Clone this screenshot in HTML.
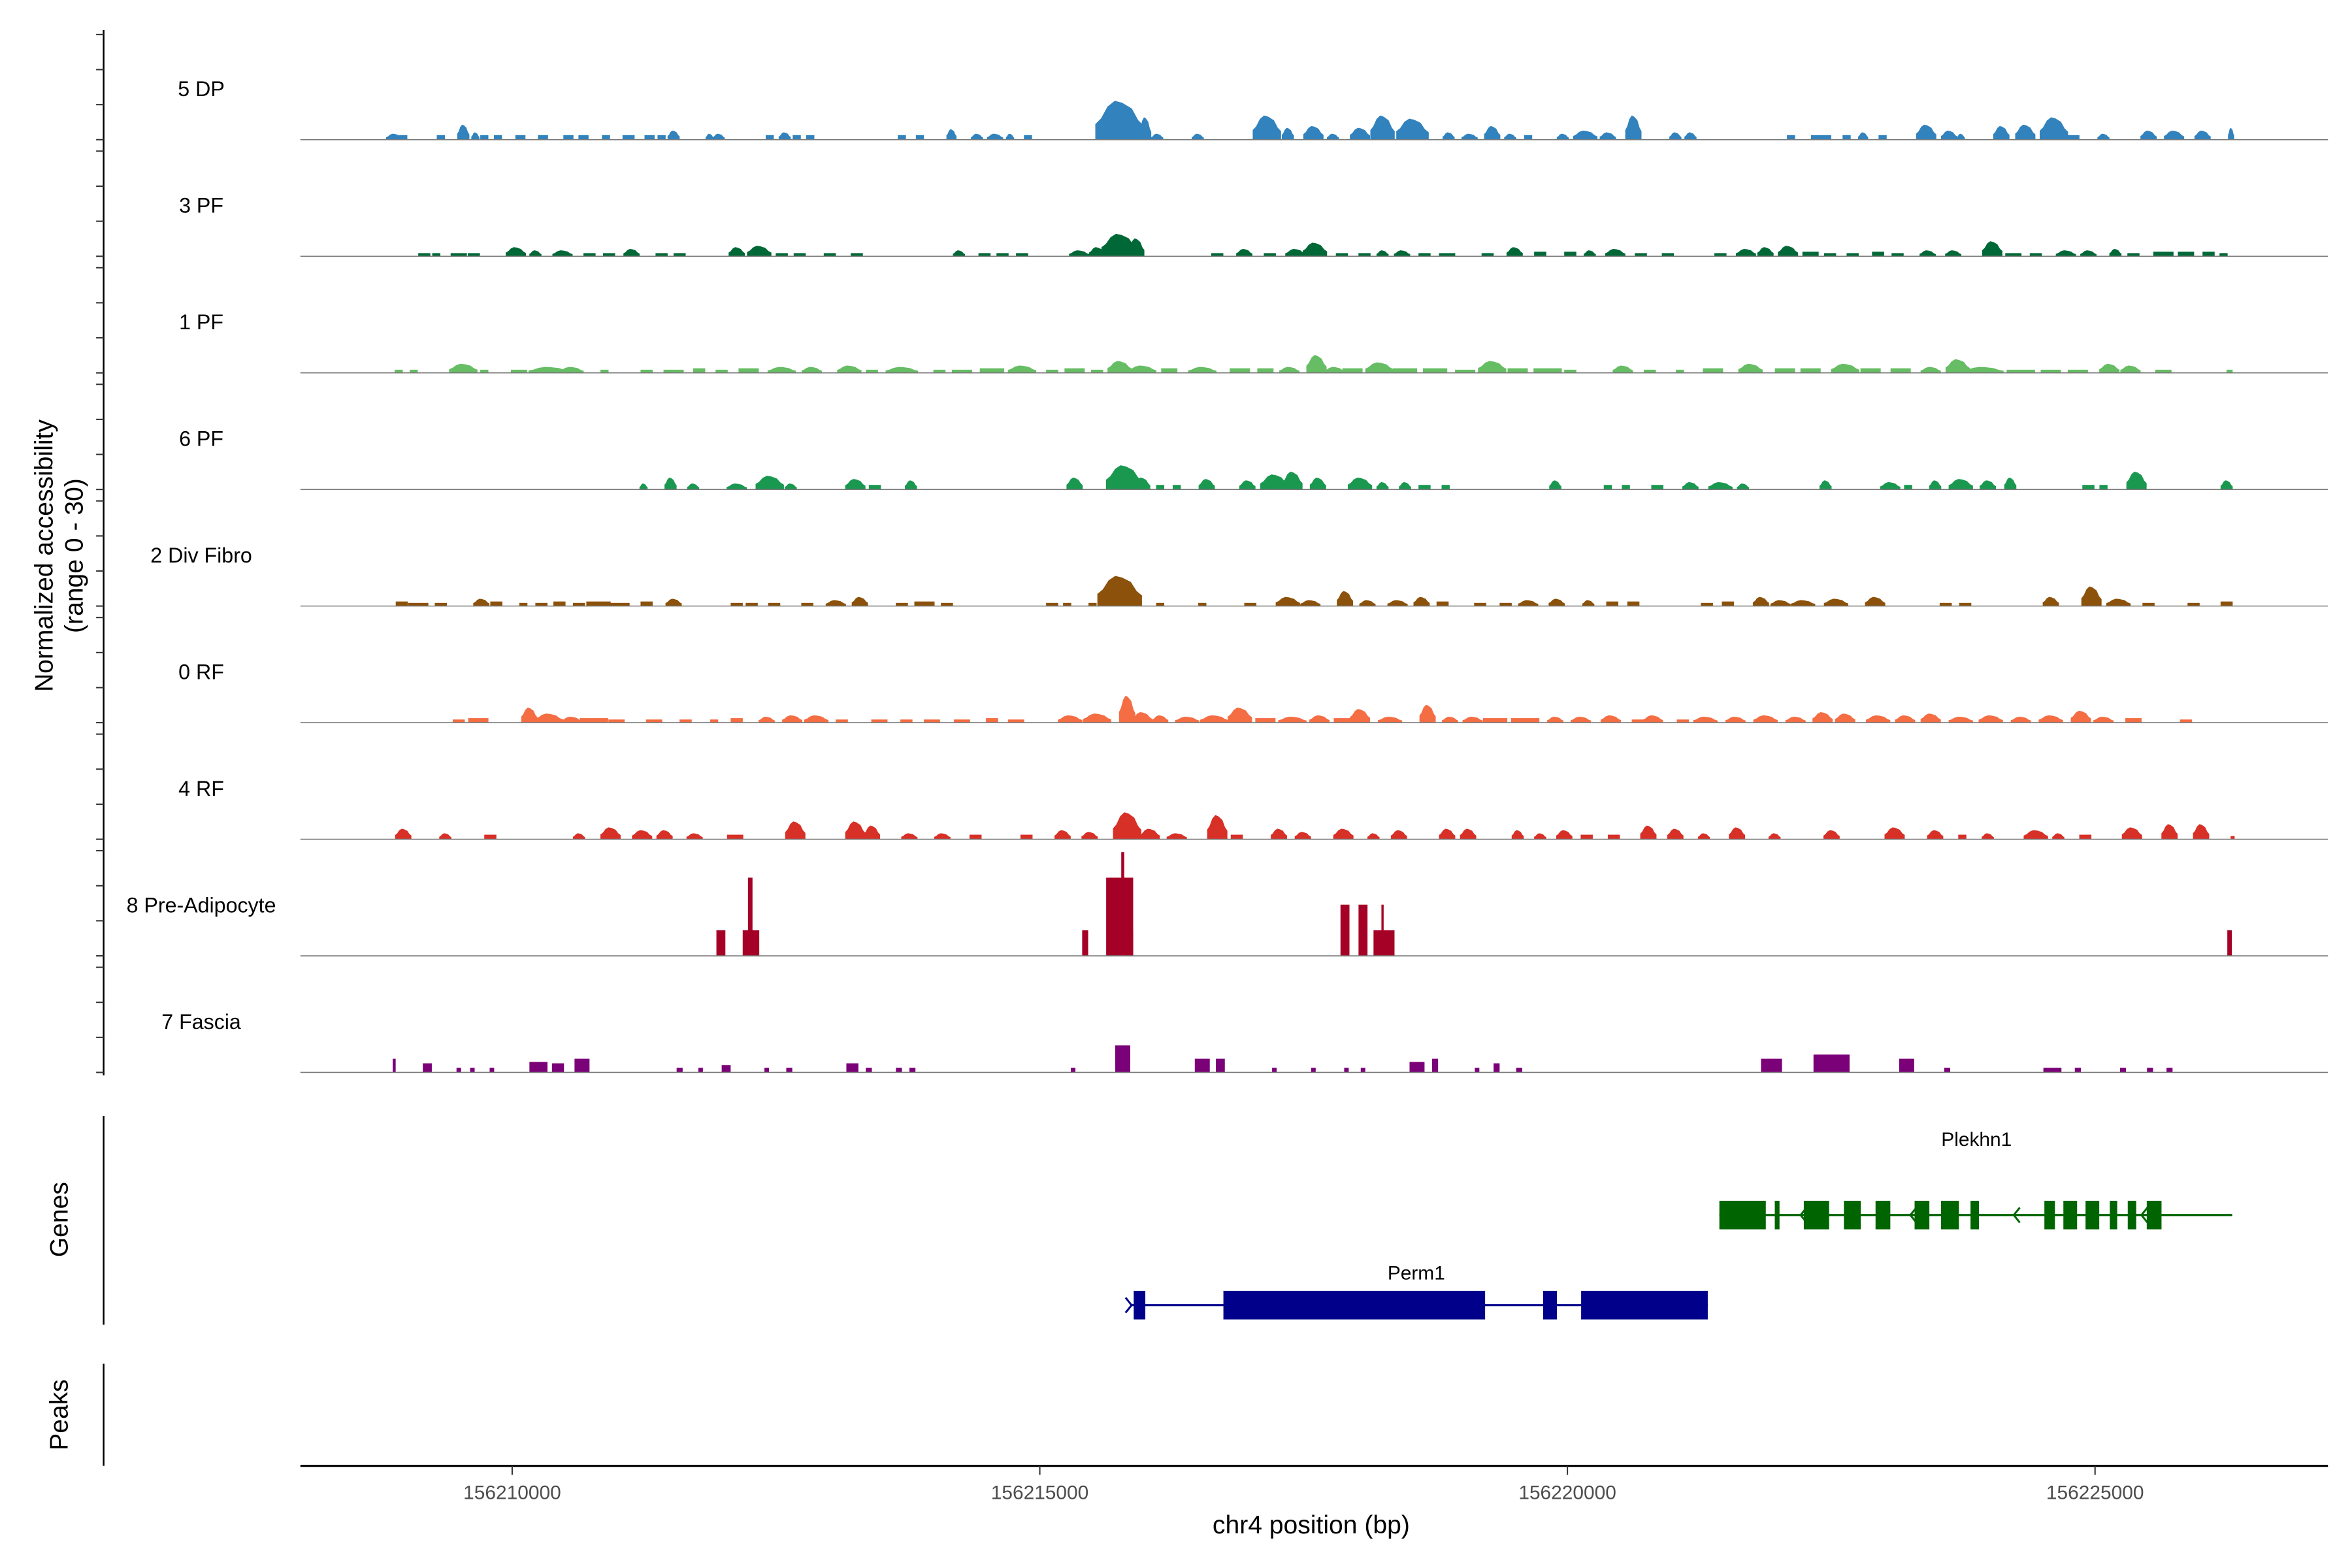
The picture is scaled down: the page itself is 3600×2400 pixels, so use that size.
<!DOCTYPE html>
<html><head><meta charset="utf-8"><title>Coverage plot chr4</title>
<style>html,body{margin:0;padding:0;background:#fff}svg{display:block}text{font-family:"Liberation Sans",Arial,sans-serif}</style>
</head><body>
<svg id="chart" xmlns="http://www.w3.org/2000/svg" width="3600" height="2400" viewBox="0 0 1566 1044" preserveAspectRatio="none">
<rect x="0" y="0" width="1566" height="1044" fill="#fff"/>
<g id="axes"></g>
<g id="tracks"></g>
<g id="genes"></g>
</svg>
<script>
// ---- data ----
const xTicks = [156210000, 156215000, 156220000, 156225000];
const trackNames = ["5 DP","3 PF","1 PF","6 PF","2 Div Fibro","0 RF","4 RF","8 Pre-Adipocyte","7 Fascia"];
const trackColors = ["#3182BD","#006837","#66BD63","#1A9850","#8C510A","#F46D43","#D73027","#A50026","#7A0177"];
const yTicks = [0,10,20,30];
// peaks: [center bp, width bp, height (0-30)]
const peaks5DP = [[156208882,114,1.7],[156208968,57,1.3],[156209324,57,1.3],[156209537,85,4.3],[156209651,57,2.1],[156209736,57,1.3],[156209865,57,1.3],[156210078,71,1.3],[156210292,71,1.3],[156210533,71,1.3],[156210676,71,1.3],[156210889,57,1.3],[156211103,85,1.3],[156211302,71,1.3],[156211416,57,1.3],[156211530,85,2.6],[156211871,57,1.7],[156211957,85,1.7],[156212441,57,1.3],[156212583,85,2.1],[156212697,57,1.3],[156212825,57,1.3],[156213693,57,1.3],[156213864,57,1.3],[156214163,71,3.0],[156214405,85,1.7],[156214576,114,1.7],[156214718,57,1.7],[156214888,57,1.3],[156215757,342,11.1],[156215999,85,6.4],[156216113,85,1.7],[156216497,85,1.7],[156217152,199,6.9],[156217351,85,3.4],[156217593,142,3.9],[156217778,85,1.7],[156218034,142,3.4],[156218248,171,6.9],[156218532,228,6.0],[156218874,85,2.1],[156219073,114,1.7],[156219287,114,3.9],[156219458,85,1.7],[156219628,57,1.3],[156219956,85,1.7],[156220169,171,2.6],[156220383,114,2.1],[156220625,114,6.9],[156221023,85,2.1],[156221166,85,2.1],[156222119,57,1.3],[156222404,142,1.3],[156222646,57,1.3],[156222802,71,2.1],[156222987,57,1.3],[156223400,142,4.3],[156223617,114,2.6],[156223728,57,1.7],[156224112,114,3.9],[156224339,142,4.3],[156224610,199,6.4],[156224795,85,1.3],[156225080,85,1.7],[156225507,114,2.6],[156225749,142,2.6],[156226019,114,2.6],[156226289,43,3.4]];
const peaks3PF = [[156209167,85,0.9],[156209281,57,0.9],[156209494,114,0.9],[156209637,85,0.9],[156210035,142,2.6],[156210220,85,1.7],[156210477,142,1.7],[156210733,85,0.9],[156210918,85,0.9],[156211131,114,2.1],[156211416,85,0.9],[156211587,85,0.9],[156212128,114,2.6],[156212341,171,3.0],[156212555,85,0.9],[156212725,85,0.9],[156213010,85,0.9],[156213266,85,0.9],[156214234,85,1.7],[156214476,85,0.9],[156214647,85,0.9],[156214832,85,0.9],[156215373,142,1.7],[156215543,114,2.6],[156215757,256,6.4],[156215914,114,5.1],[156216682,85,0.9],[156216938,114,2.1],[156217180,85,0.9],[156217422,142,2.1],[156217607,171,3.9],[156217863,85,0.9],[156218077,85,0.9],[156218248,85,1.7],[156218433,114,1.7],[156218646,85,0.9],[156218860,114,0.9],[156219244,85,0.9],[156219500,114,2.6],[156219742,85,1.3],[156220027,85,1.3],[156220212,85,1.7],[156220453,142,2.1],[156220696,85,0.9],[156220952,85,0.9],[156221450,85,0.9],[156221692,142,2.1],[156221877,114,2.6],[156222090,142,3.0],[156222304,114,1.3],[156222489,85,0.9],[156222703,85,0.9],[156222944,85,1.3],[156223129,85,0.9],[156223414,114,1.7],[156223656,114,1.7],[156224026,142,4.3],[156224226,114,0.9],[156224439,85,0.9],[156224724,142,1.7],[156224937,114,1.7],[156225193,85,2.1],[156225364,85,0.9],[156225648,142,1.3],[156225862,114,1.3],[156226076,85,1.3],[156226218,57,0.9]];
const peaks1PF = [[156208925,57,0.9],[156209067,57,0.9],[156209537,199,2.6],[156209736,57,0.9],[156210064,114,0.9],[156210348,285,1.7],[156210562,171,1.7],[156210875,57,0.9],[156211274,85,0.9],[156211530,142,0.9],[156211772,85,1.3],[156211985,85,0.9],[156212241,142,1.3],[156212555,199,1.7],[156212839,142,1.7],[156213195,171,2.1],[156213409,85,0.9],[156213693,228,1.7],[156214049,85,0.9],[156214263,142,0.9],[156214547,171,1.3],[156214832,199,2.1],[156215117,85,0.9],[156215330,142,1.3],[156215543,85,0.9],[156215757,171,3.4],[156215970,199,2.1],[156216227,114,1.3],[156216540,199,1.7],[156216896,142,1.3],[156217138,114,1.3],[156217365,142,1.7],[156217622,142,5.1],[156217792,142,1.7],[156217963,142,1.3],[156218219,199,3.0],[156218461,171,1.3],[156218746,171,1.3],[156219031,142,0.9],[156219287,199,3.4],[156219529,142,1.3],[156219813,199,1.3],[156220027,85,0.9],[156220525,142,2.1],[156220781,85,0.9],[156221066,57,0.9],[156221379,142,1.3],[156221735,171,2.6],[156222062,142,1.3],[156222304,142,1.3],[156222632,199,2.6],[156222873,142,1.3],[156223158,142,1.3],[156223443,142,1.7],[156223699,171,3.9],[156223941,285,1.7],[156224297,199,0.9],[156224581,142,0.9],[156224837,142,0.9],[156225136,142,2.6],[156225336,142,2.1],[156225648,114,0.9],[156226275,43,0.9]];
const peaks6PF = [[156211245,57,1.7],[156211501,85,3.4],[156211715,85,1.7],[156212128,142,1.7],[156212441,199,3.9],[156212640,85,1.7],[156213252,142,3.0],[156213437,85,1.3],[156213779,85,2.6],[156215330,114,3.4],[156215800,256,6.9],[156215970,114,3.4],[156216141,57,1.3],[156216298,57,1.3],[156216582,114,3.0],[156216967,114,2.6],[156217223,199,4.3],[156217394,142,5.1],[156217636,114,3.4],[156218034,171,3.4],[156218248,85,2.1],[156218461,85,2.1],[156218646,85,1.3],[156218846,57,1.3],[156219885,85,2.6],[156220383,57,1.3],[156220554,57,1.3],[156220852,85,1.3],[156221166,114,2.1],[156221450,171,2.1],[156221664,85,1.7],[156222446,85,2.6],[156223059,142,2.1],[156223229,57,1.3],[156223485,85,2.6],[156223728,171,3.0],[156223984,114,2.6],[156224197,85,3.4],[156224937,85,1.3],[156225080,57,1.3],[156225393,142,5.1],[156226247,85,2.6]];
const peaksDivFibro = [[156208954,85,1.3],[156209110,142,0.9],[156209324,85,0.9],[156209708,114,2.1],[156209850,85,1.3],[156210106,57,0.9],[156210277,85,0.9],[156210448,85,1.3],[156210633,85,0.9],[156210818,171,1.3],[156211017,142,0.9],[156211274,85,1.3],[156211530,114,2.1],[156212128,85,0.9],[156212270,85,0.9],[156212483,85,0.9],[156212797,85,0.9],[156213067,142,1.7],[156213295,114,2.6],[156213693,85,0.9],[156213907,142,1.3],[156214120,85,0.9],[156215117,85,0.9],[156215259,57,0.9],[156215500,57,0.9],[156215757,313,8.6],[156216141,57,0.9],[156216540,57,0.9],[156216995,85,0.9],[156217351,171,2.6],[156217564,142,1.7],[156217892,114,4.3],[156218105,114,1.7],[156218390,142,1.7],[156218618,114,2.6],[156218817,85,1.3],[156219173,85,0.9],[156219415,85,0.9],[156219628,142,1.7],[156219899,114,2.1],[156220198,85,1.7],[156220425,85,1.3],[156220625,85,1.3],[156221322,85,0.9],[156221521,85,1.3],[156221834,114,2.6],[156222020,142,1.7],[156222233,171,1.7],[156222546,171,2.1],[156222916,142,2.6],[156223585,85,0.9],[156223770,85,0.9],[156224581,114,2.6],[156224966,142,5.6],[156225222,171,2.1],[156225507,85,0.9],[156225934,85,0.9],[156226247,85,1.3]];
const peaks0RF = [[156209494,85,0.9],[156209679,142,1.3],[156210163,114,4.3],[156210348,199,2.6],[156210562,142,1.7],[156210775,199,1.3],[156210989,114,0.9],[156211345,114,0.9],[156211644,85,0.9],[156211914,57,0.9],[156212128,85,1.3],[156212412,114,1.7],[156212654,142,2.1],[156212882,171,2.1],[156213124,85,0.9],[156213480,114,0.9],[156213736,85,0.9],[156213978,114,0.9],[156214263,114,0.9],[156214547,85,1.3],[156214775,114,0.9],[156215287,171,2.1],[156215543,199,2.6],[156215828,114,7.7],[156215970,142,3.0],[156216141,114,2.1],[156216397,171,1.7],[156216654,199,2.1],[156216896,171,4.3],[156217138,142,1.3],[156217394,199,1.7],[156217650,142,2.1],[156217863,114,1.3],[156218034,142,3.9],[156218319,171,1.7],[156218675,114,5.1],[156218888,114,1.7],[156219102,142,1.7],[156219315,171,1.3],[156219600,199,1.3],[156219885,114,1.7],[156220127,142,1.7],[156220411,142,2.1],[156220667,85,0.9],[156220810,142,2.1],[156221094,85,0.9],[156221308,171,1.7],[156221593,142,1.7],[156221877,171,2.1],[156222162,142,1.7],[156222418,142,3.0],[156222632,142,2.6],[156222944,171,2.1],[156223200,142,2.1],[156223443,142,2.6],[156223728,171,1.7],[156224012,171,2.1],[156224297,142,1.7],[156224581,171,2.1],[156224866,142,3.4],[156225080,142,1.7],[156225364,114,1.3],[156225862,85,0.9]];
const peaks4RF = [[156208968,114,3.0],[156209366,85,1.7],[156209793,85,1.3],[156210633,85,1.7],[156210932,142,3.4],[156211231,142,2.6],[156211444,114,2.6],[156211729,114,1.7],[156212113,114,1.3],[156212683,142,5.1],[156213252,142,5.1],[156213409,114,3.9],[156213764,114,1.7],[156214077,114,1.7],[156214391,85,1.3],[156214874,85,1.3],[156215216,114,2.6],[156215472,114,2.1],[156215828,199,7.7],[156216042,142,3.0],[156216298,142,1.7],[156216682,142,6.9],[156216867,85,1.3],[156217266,114,3.0],[156217493,114,2.1],[156217877,142,3.0],[156218162,85,1.7],[156218404,114,2.6],[156218860,114,3.0],[156219059,114,3.0],[156219529,85,2.6],[156219742,85,1.7],[156219970,114,2.6],[156220183,85,1.3],[156220440,85,1.3],[156220767,114,3.9],[156221023,114,3.0],[156221294,85,1.7],[156221607,114,3.4],[156221963,85,1.7],[156222503,114,2.6],[156223101,142,3.4],[156223485,114,2.6],[156223742,57,1.3],[156223984,85,1.7],[156224439,171,2.6],[156224652,85,1.7],[156224908,85,1.3],[156225350,142,3.4],[156225706,114,4.3],[156226005,114,4.3],[156226304,28,0.9]];
const peaksPreAdipocyte = [[156211978,85,7.3],[156212263,157,7.3],[156212256,43,22.3],[156215430,57,7.3],[156215757,256,22.3],[156215786,28,29.6],[156215857,57,7.3],[156217892,85,14.6],[156218063,85,14.6],[156218262,199,7.3],[156218248,21,14.6],[156226275,43,7.3]];
const peaksFascia = [[156208882,28,3.9],[156209196,85,2.6],[156209494,43,1.3],[156209623,43,1.3],[156209808,43,1.3],[156210249,171,3.0],[156210434,114,2.6],[156210662,142,3.9],[156211587,57,1.3],[156211786,43,1.3],[156212028,85,2.1],[156212412,43,1.3],[156212626,57,1.3],[156213224,114,2.6],[156213380,57,1.3],[156213665,57,1.3],[156213793,57,1.3],[156215316,43,1.3],[156215786,142,7.7],[156216540,142,3.9],[156216711,85,3.9],[156217223,43,1.3],[156217593,43,1.3],[156217906,43,1.3],[156218063,43,1.3],[156218575,142,3.0],[156218746,57,3.9],[156219144,43,1.3],[156219329,57,2.6],[156219543,57,1.3],[156221934,199,3.9],[156222503,342,5.1],[156223215,142,3.9],[156223599,57,1.3],[156224596,171,1.3],[156224837,57,1.3],[156225265,57,1.3],[156225521,57,1.3],[156225706,57,1.3]];
const trackPeaks = [peaks5DP,peaks3PF,peaks1PF,peaks6PF,peaksDivFibro,peaks0RF,peaks4RF,peaksPreAdipocyte,peaksFascia];
const trackBlocky = [false,false,false,false,false,false,false,true,true];
// genes: exons [start, end] in bp
const plekhn1Exons = [[156221440,156221880],[156221965,156222010],[156222240,156222480],[156222620,156222780],[156222920,156223060],[156223290,156223430],[156223540,156223710],[156223820,156223900],[156224520,156224620],[156224700,156224830],[156224910,156225040],[156225140,156225210],[156225310,156225390],[156225490,156225630]];
const plekhn1Span = [156221440,156226300];
const perm1Exons = [[156215890,156216000],[156216740,156219220],[156219770,156219900],[156220130,156221330]];
const perm1Span = [156215860,156221330];

// ---- scales ----
const X0 = 200, X1 = 1550, BP0 = 156207993, BP_PER_PX = 5000/351.3;
function xs(bp){ return X0 + (bp - BP0)/BP_PER_PX; }
const TRACK_H = 70, TRACK_STEP = 77.63, FIRST_BASE = 93;
function base(i){ return FIRST_BASE + i*TRACK_STEP; }
function ys(i, v){ return base(i) - v/30*TRACK_H; }
const WIDEN = 1.35;

const NS = "http://www.w3.org/2000/svg";
function mk(tag, attrs, parent){ const e=document.createElementNS(NS,tag); for(const k in attrs) e.setAttribute(k,attrs[k]); parent.appendChild(e); return e; }
const axes = document.getElementById('axes');
const tracksG = document.getElementById('tracks');
const genesG = document.getElementById('genes');

// left y axis
let yl = mk('line',{x1:69,y1:20,x2:69,y2:716,stroke:'#000','stroke-width':1.1},axes);


for(let i=0;i<trackNames.length;i++){
  for(const t of yTicks){
    const y = ys(i,t);
    const tk = mk('line',{x1:64,y1:y,x2:69,y2:y,stroke:'#333','stroke-width':0.9},axes);
    
    
  }
}
let yt = mk('text',{x:0,y:0,'font-size':17,'text-anchor':'middle',transform:'translate(35,370) rotate(-90)'},axes);
yt.textContent = 'Normalized accessibility';


let yt2 = mk('text',{x:0,y:0,'font-size':17,'text-anchor':'middle',transform:'translate(55,370) rotate(-90)'},axes);
yt2.textContent = '(range 0 - 30)';



// tracks
for(let i=0;i<trackNames.length;i++){
  const g = mk('g',{},tracksG);
  
  
  const lbl = mk('text',{x:134,y:base(i)-29,'font-size':14,'text-anchor':'middle',fill:'#000'},g);
  lbl.textContent = trackNames[i];
  
  
  const col = trackColors[i];
  const b = base(i);
  for(const p of trackPeaks[i]){
    const c = xs(p[0]), top = ys(i,p[2]);
    const w = trackBlocky[i] ? p[1]/BP_PER_PX : p[1]/BP_PER_PX*WIDEN;
    const x0 = c-w/2, x1 = c+w/2, h = b-top;
    let el;
    if(trackBlocky[i] || p[2] < 1.5){
      el = mk('rect',{x:x0,y:top,width:w,height:h,fill:col},g);
    } else {
      const pts = [[x0,b],[x0,b-h*0.4],[x0+w*0.12,b-h*0.55],[x0+w*0.25,b-h*0.85],[x0+w*0.4,top],[x0+w*0.55,b-h*0.95],[x1-w*0.25,b-h*0.8],[x1-w*0.12,b-h*0.5],[x1,b-h*0.35],[x1,b]];
      el = mk('polygon',{points:pts.map(q=>q[0].toFixed(2)+','+q[1].toFixed(2)).join(' '),fill:col},g);
    }
    
    
  }
  const bl = mk('line',{x1:X0,y1:b,x2:X1,y2:b,stroke:'#7a7a7a','stroke-width':0.7},g);
  
  
}

// genes panel
let ga = mk('line',{x1:69,y1:743,x2:69,y2:882,stroke:'#000','stroke-width':1.1},genesG);


let gl = mk('text',{x:0,y:0,'font-size':17,'text-anchor':'middle',transform:'translate(45,812) rotate(-90)'},genesG);
gl.textContent='Genes';


let pa = mk('line',{x1:69,y1:908,x2:69,y2:976,stroke:'#000','stroke-width':1.1},genesG);


let pl = mk('text',{x:0,y:0,'font-size':17,'text-anchor':'middle',transform:'translate(45,942) rotate(-90)'},genesG);
pl.textContent='Peaks';



function drawGene(name, span, exons, yc, col, labelX, labelY, strand, arrows){
  const g = mk('g',{},genesG);
  
  
  const ln = mk('line',{x1:xs(span[0]),y1:yc,x2:xs(span[1]),y2:yc,stroke:col,'stroke-width':1.4},g);
  
  
  for(const e of exons){
    const r = mk('rect',{x:xs(e[0]),y:yc-9.5,width:Math.max(1.5,xs(e[1])-xs(e[0])),height:19,fill:col},g);
    
    
  }
  for(const a of arrows){
    const ax = xs(a);
    const d = strand<0 ? `M${ax+4},${yc-5} L${ax},${yc} L${ax+4},${yc+5}` : `M${ax-4},${yc-5} L${ax},${yc} L${ax-4},${yc+5}`;
    const pth = mk('path',{d:d,stroke:col,'stroke-width':1.3,fill:'none'},g);
    
    
  }
  const t = mk('text',{x:labelX,y:labelY,'font-size':13,'text-anchor':'middle'},g);
  t.textContent = name;
  
  
}
drawGene('Plekhn1', plekhn1Span, plekhn1Exons, 809, '#006400', 1316, 763, -1, [156222210,156223250,156224230,156225440]);
drawGene('Perm1', perm1Span, perm1Exons, 869, '#00008B', 943, 852, 1, [156215870]);

// x axis
let xl = mk('line',{x1:X0,y1:976,x2:X1,y2:976,stroke:'#000','stroke-width':1.4},axes);


for(const t of xTicks){
  const x = xs(t);
  const tk = mk('line',{x1:x,y1:976,x2:x,y2:982,stroke:'#333','stroke-width':0.9},axes);
  
  
  const tl = mk('text',{x:x,y:998,'font-size':13,'text-anchor':'middle',fill:'#4D4D4D'},axes);
  tl.textContent = String(t);
  
  
}
let xt = mk('text',{x:873,y:1021,'font-size':17,'text-anchor':'middle'},axes);
xt.textContent='chr4 position (bp)';


</script>
</body></html>
